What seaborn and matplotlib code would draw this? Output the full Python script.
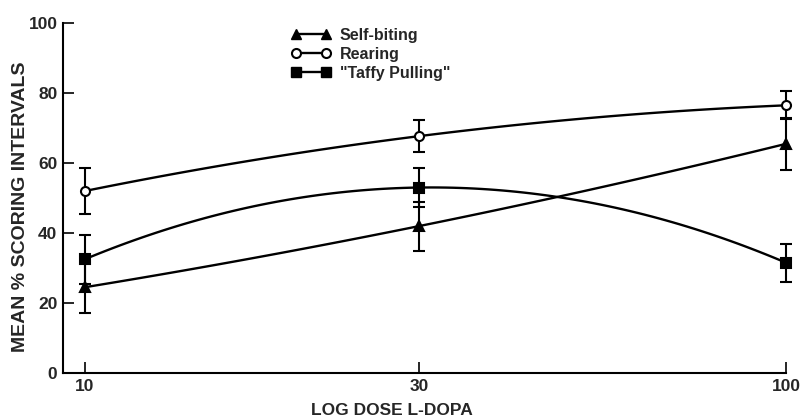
import numpy as np
import matplotlib
matplotlib.use("Agg")
import matplotlib.pyplot as plt
import seaborn as sns
from matplotlib.lines import Line2D

# values
doses = [10, 30, 100]
self_biting = [24.5, 42, 65.5]
self_biting_se = [7.5, 7, 7.5]
rearing = [52, 67.7, 76.5]
rearing_se = [6.5, 4.5, 4]
taffy = [32.5, 53, 31.5]
taffy_se = [7, 5.5, 5.5]

series_names = ["Self-biting", "Rearing", "\"Taffy Pulling\""]
tick_labels = ["10", "30", "100"]
y_ticks = [0, 20, 40, 60, 80, 100]

sns.set_style("ticks")
plt.rcParams["font.family"] = ["Liberation Sans", "DejaVu Sans"]
plt.rcParams["font.weight"] = "bold"

log_dose = np.log10(doses)

fig = plt.figure(figsize=(8.03, 4.2), dpi=100)
ax = fig.add_axes([0.0785, 0.112, 0.9005, 0.833])

series = [
    (self_biting, self_biting_se, "^", "black"),
    (rearing, rearing_se, "o", "white"),
    (taffy, taffy_se, "s", "black"),
]

for vals, se, marker, face in series:
    sns.regplot(x=log_dose, y=vals, order=2, ci=None, scatter=False, ax=ax,
                truncate=True,
                line_kws={"color": "black", "linewidth": 1.7, "zorder": 2})
    ax.errorbar(log_dose, vals, yerr=se, fmt=marker, color="black",
                markerfacecolor=face, markeredgecolor="black",
                markeredgewidth=1.5, markersize=6.5, elinewidth=1.5,
                capsize=4.5, capthick=1.5, clip_on=False, zorder=3)

ax.set_xlim(np.log10(10) - 0.031, np.log10(100))
ax.set_ylim(0, 100)
ax.set_xticks(log_dose)
ax.set_xticklabels(tick_labels)
ax.set_yticks(y_ticks)
ax.tick_params(direction="in", length=8, width=1.4, labelsize=12.5, pad=4)
for lab in ax.get_xticklabels() + ax.get_yticklabels():
    lab.set_fontweight("bold")
sns.despine(ax=ax)
for sp in ["left", "bottom"]:
    ax.spines[sp].set_linewidth(1.5)
    ax.spines[sp].set_color("black")

ax.set_xlabel("LOG DOSE L-DOPA", fontsize=12.5, fontweight="bold")
ax.xaxis.set_label_coords(0.455, -0.086)
ax.set_ylabel("MEAN % SCORING INTERVALS", fontsize=14, fontweight="bold")
ax.yaxis.set_label_coords(-0.047, 0.474)

handles = [
    Line2D([0], [0], color="black", lw=1.7, marker="^", markersize=6.5,
           markerfacecolor="black"),
    Line2D([0], [0], color="black", lw=1.7, marker="o", markersize=6.5,
           markerfacecolor="white", markeredgewidth=1.5),
    Line2D([0], [0], color="black", lw=1.7, marker="s", markersize=6.5,
           markerfacecolor="black"),
]
leg = ax.legend(handles, series_names, loc="upper left",
                bbox_to_anchor=(0.30, 1.018), frameon=False, numpoints=2,
                handlelength=2.5, handletextpad=0.55, labelspacing=0.25,
                borderpad=0.2, prop={"weight": "bold", "size": 11.5})

fig.savefig("out.png", dpi=100)
